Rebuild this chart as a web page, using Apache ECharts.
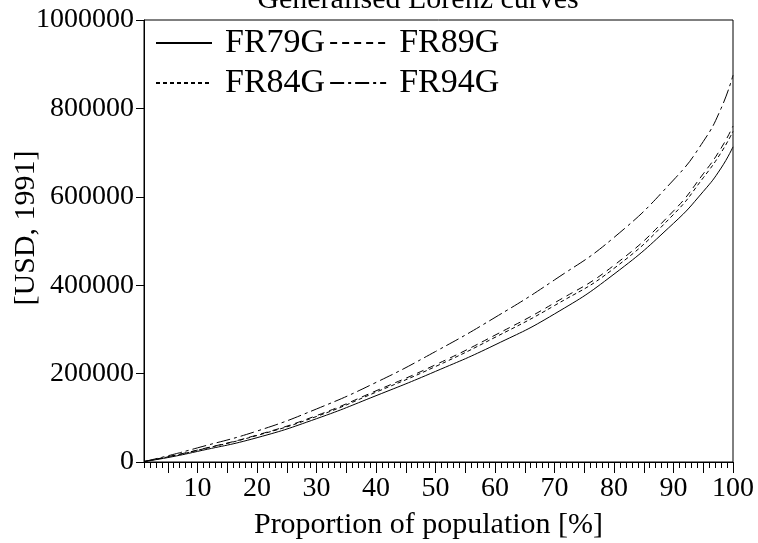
<!DOCTYPE html>
<html>
<head>
<meta charset="utf-8">
<script src="https://cdn.jsdelivr.net/npm/echarts@6/dist/echarts.min.js"></script>
<style>
html,body{margin:0;padding:0;background:#fff;}
#chart{width:758px;height:543px;}
</style>
</head>
<body>
<div id="chart"></div>
<script>
const pct = [1, 5, 10, 20, 30, 40, 50, 60, 70, 80, 90, 95, 98, 100];
const FR79G = [1000, 10000, 24000, 55000, 98000, 150000, 205000, 265000, 335000, 425000, 540000, 612000, 665000, 713000];
const FR89G = [1000, 12000, 27000, 61000, 105000, 161000, 220000, 287000, 360000, 445000, 568000, 652000, 710000, 760000];
const FR84G = [1000, 11500, 26500, 60000, 103000, 158000, 216000, 282000, 354000, 438000, 560000, 643000, 700000, 748000];
const FR94G = [1000, 14000, 32000, 70000, 120000, 180000, 250000, 327000, 412000, 508000, 638000, 725000, 800000, 875000];
const xLabels = [10, 20, 30, 40, 50, 60, 70, 80, 90, 100];
const yTitle = '[USD, 1991]';

const FONT = 'Liberation Serif';
const majorTicks = [];
const minorTicks = [];
for (let v = 1; v <= 100; v++) { if (v % 5 === 0) majorTicks.push(v); else minorTicks.push(v); }

function pts(arr) { return pct.map((p, i) => [p, arr[i]]); }
function ser(name, arr, type) {
  return {
    name: name, type: 'line', data: pts(arr), smooth: true,
    symbol: 'none', showSymbol: false, silent: true,
    lineStyle: { color: '#000', width: 1, type: type },
    itemStyle: { color: '#000' }
  };
}

const legendBase = {
  left: 155, padding: 0, itemGap: 4, itemWidth: 56, itemHeight: 12,
  itemStyle: { opacity: 0 },
  textStyle: { fontFamily: FONT, fontSize: 34, color: '#000', padding: [0, 0, 0, 8] }
};

const chart = echarts.init(document.getElementById('chart'), null, { renderer: 'canvas' });
chart.setOption({
  animation: false,
  backgroundColor: '#fff',
  title: {
    text: 'Generalised Lorenz curves', left: 413, top: -20, textAlign: 'center',
    textStyle: { fontFamily: FONT, fontSize: 30, fontWeight: 'normal', color: '#000' }
  },
  legend: [
    Object.assign({}, legendBase, { data: ['FR79G', 'FR89G'], top: 26 }),
    Object.assign({}, legendBase, { data: ['FR84G', 'FR94G'], top: 66 })
  ],
  graphic: [{
    type: 'text', x: 26, y: 228, rotation: Math.PI / 2, silent: true,
    style: { text: yTitle, fontFamily: FONT, fontSize: 30, fill: '#000', align: 'center', verticalAlign: 'middle' }
  }],
  grid: {
    left: 144, right: 25, top: 20, bottom: 81, show: true, borderColor: '#000', borderWidth: 1,
    containLabel: false, outerBoundsMode: 'none'
  },
  xAxis: [
    {
      type: 'value', min: 1, max: 100,
      name: 'Proportion of population [%]', nameLocation: 'middle', nameGap: 48,
      nameTextStyle: { fontFamily: FONT, fontSize: 30, color: '#000', padding: [0, 20, 0, 0] },
      axisLine: { show: true, lineStyle: { color: '#000', width: 1 } },
      axisTick: { show: true, customValues: majorTicks, length: 11, lineStyle: { color: '#000' } },
      axisLabel: { customValues: xLabels, fontFamily: FONT, fontSize: 28, color: '#000', margin: 13 },
      splitLine: { show: false }
    },
    {
      type: 'value', min: 1, max: 100, position: 'bottom',
      axisLine: { show: false },
      axisTick: { show: true, customValues: minorTicks, length: 6, lineStyle: { color: '#000' } },
      axisLabel: { show: false },
      splitLine: { show: false }
    }
  ],
  yAxis: {
    type: 'value', min: 0, max: 1000000, interval: 200000,
    axisLine: { show: true, lineStyle: { color: '#000', width: 1 } },
    axisTick: { show: true, length: 8, lineStyle: { color: '#000' } },
    axisLabel: { fontFamily: FONT, fontSize: 28, color: '#000', margin: 10, formatter: function (v) { return String(v); } },
    splitLine: { show: false }
  },
  series: [
    ser('FR79G', FR79G, 'solid'),
    ser('FR89G', FR89G, [7, 5]),
    ser('FR84G', FR84G, [4, 3]),
    ser('FR94G', FR94G, [14, 4, 3, 4])
  ]
});
</script>
</body>
</html>
